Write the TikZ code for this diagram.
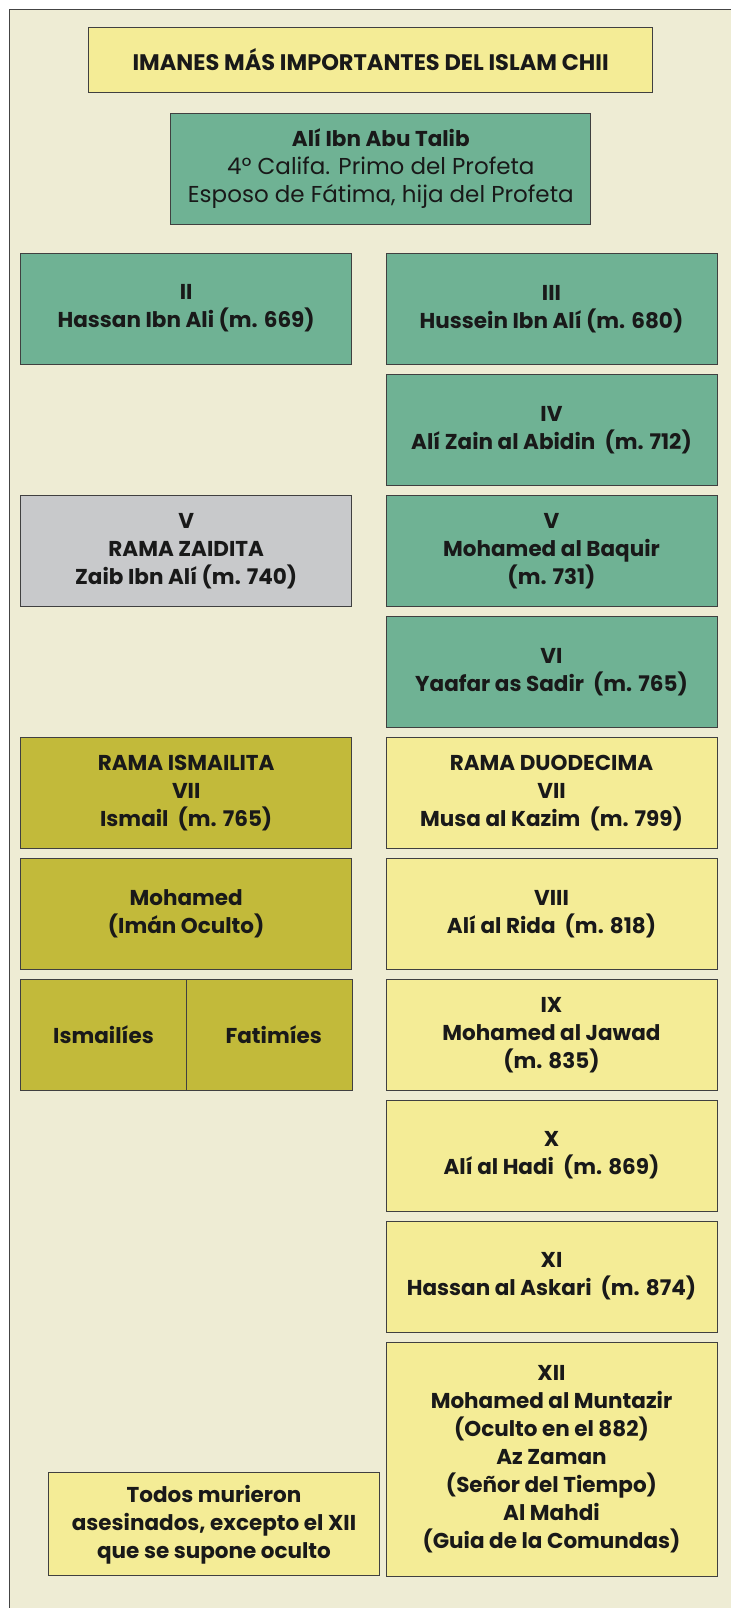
\documentclass[tikz,border=0pt]{standalone}
\usepackage{fontspec}
\setmainfont{Poppins}
\definecolor{paper}{HTML}{EEECD4}
\definecolor{frameline}{HTML}{444444}
\definecolor{amarillo}{HTML}{F4EC96}
\definecolor{verde}{HTML}{6FB294}
\definecolor{gris}{HTML}{C8C9CB}
\definecolor{oliva}{HTML}{C2BA3A}
\begin{document}
\begin{tikzpicture}[x=1pt, y=-1pt,
  every node/.style={font=\fontsize{21.5}{28}\selectfont\bfseries, align=center, text=black!90},
  box/.style={draw=black!75, line width=0.9pt, inner sep=0pt, minimum width=331pt, minimum height=111pt},
  verdebox/.style={box, fill=verde},
  amarillobox/.style={box, fill=amarillo},
  olivabox/.style={box, fill=oliva},
  grisbox/.style={box, fill=gris}]
  \useasboundingbox (0,0) rectangle (731,1608);
  % fondo y marco
  \fill[white] (0,0) rectangle (731,1608);
  \fill[paper] (9,10) rectangle (731,1608);
  \draw[frameline, line width=1pt] (9,1608) -- (9,10) -- (731,10);
  % cabecera
  \node[amarillobox, minimum width=564pt, minimum height=64.6pt, font=\fontsize{22.5}{28}\selectfont\bfseries] (title) at (370.6,60) {IMANES MÁS IMPORTANTES DEL ISLAM CHII};
  \node[verdebox, minimum width=420pt, minimum height=110.6pt] (ali) at (380.8,169)
    {Alí Ibn Abu Talib\\ \fontsize{23}{28}\selectfont\mdseries 4º Califa. Primo del Profeta\\ \fontsize{23}{28}\selectfont\mdseries Esposo de Fátima, hija del Profeta};
  % columna izquierda
  \node[verdebox] (hassan) at (186.2,308.5) {II\\ Hassan Ibn Ali (m. 669)};
  \node[grisbox] (zaid) at (186.2,551) {V\\ RAMA ZAIDITA\\ Zaib Ibn Alí (m. 740)};
  \node[olivabox] (ismail) at (186.2,793) {RAMA ISMAILITA\\ VII\\ Ismail~ (m. 765)};
  \node[olivabox] (mohamed) at (186.2,914) {Mohamed\\ (Imán Oculto)};
  \node[olivabox, minimum width=166pt] (ismailies) at (103.5,1034.8) {Ismailíes};
  \node[olivabox, minimum width=165.5pt] (fatimies) at (269.2,1034.8) {~~Fatimíes};
  \node[amarillobox, minimum height=103pt] (nota) at (214,1524.3)
    {Todos murieron\\ asesinados, excepto el XII\\ que se supone oculto};
  % columna derecha
  \node[verdebox] (hussein) at (551.5,308.8) {III\\ Hussein Ibn Alí (m. 680)};
  \node[verdebox] (zain) at (551.5,430) {IV\\ Alí Zain al Abidin~ (m. 712)};
  \node[verdebox] (baquir) at (551.5,551) {V\\ Mohamed al Baquir\\ (m. 731)};
  \node[verdebox] (yaafar) at (551.5,672) {VI\\ Yaafar as Sadir~ (m. 765)};
  \node[amarillobox] (musa) at (551.5,793) {RAMA DUODECIMA\\ VII\\ Musa al Kazim~ (m. 799)};
  \node[amarillobox] (rida) at (551.5,914) {VIII\\ Alí al Rida~ (m. 818)};
  \node[amarillobox] (jawad) at (551.5,1034.8) {IX\\ Mohamed al Jawad\\ (m. 835)};
  \node[amarillobox] (hadi) at (551.5,1155.5) {X\\ Alí al Hadi~ (m. 869)};
  \node[amarillobox] (askari) at (551.5,1276.5) {XI\\ Hassan al Askari~ (m. 874)};
  \node[amarillobox, minimum height=233.5pt] (mahdi) at (551.5,1459.2)
    {XII\\ Mohamed al Muntazir\\ (Oculto en el 882)\\ Az Zaman\\ (Señor del Tiempo)\\ Al Mahdi\\ (Guia de la Comundas)};
\end{tikzpicture}
\end{document}
